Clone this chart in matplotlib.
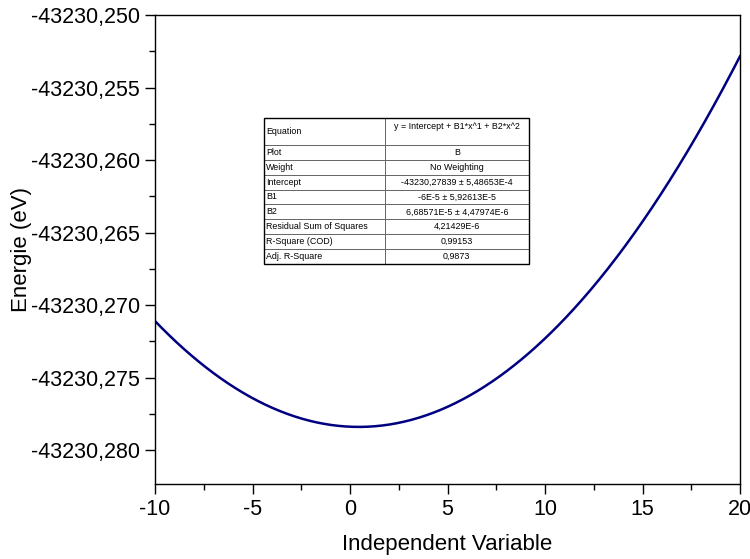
import numpy as np
import matplotlib
matplotlib.use("Agg")
import matplotlib.pyplot as plt
from matplotlib.ticker import FuncFormatter, MultipleLocator, FixedLocator
from matplotlib.patches import Rectangle

plt.rcParams['font.family'] = ['Liberation Sans', 'DejaVu Sans']

# fit parameters (quadratic)
intercept = -43230.27839
b1 = -6e-5
b2 = 6.68571e-5
x_range = [-10, 20]

y_ticks = [-43230.250, -43230.255, -43230.260, -43230.265,
           -43230.270, -43230.275, -43230.280]
x_ticks = [-10, -5, 0, 5, 10, 15, 20]

table_labels = ["Equation", "Plot", "Weight", "Intercept", "B1", "B2",
                "Residual Sum of Squares", "R-Square (COD)", "Adj. R-Square"]
table_values = ["y = Intercept + B1*x^1 + B2*x^2\n", "B", "No Weighting",
                "-43230,27839 \u00b1 5,48653E-4", "-6E-5 \u00b1 5,92613E-5",
                "6,68571E-5 \u00b1 4,47974E-6", "4,21429E-6", "0,99153", "0,9873"]

x = np.linspace(x_range[0], x_range[1], 400)
y = np.polyval([b2, b1, intercept], x)

fig = plt.figure(figsize=(7.5, 5.59), dpi=100)
ax = fig.add_axes([155/750, 1 - 484/559, 585/750, 469/559])

ax.plot(x, y, color='#000080', lw=1.8)

ax.set_xlim(-10, 20)
ax.set_ylim(-43230.28234, -43230.250)
ax.xaxis.set_major_locator(FixedLocator(x_ticks))
ax.xaxis.set_minor_locator(MultipleLocator(2.5))
ax.yaxis.set_major_locator(FixedLocator(y_ticks))
ax.yaxis.set_minor_locator(FixedLocator([v - 0.0025 for v in y_ticks]))
ax.yaxis.set_major_formatter(FuncFormatter(lambda v, p: f"{v:.3f}".replace('.', ',')))
ax.xaxis.set_major_formatter(FuncFormatter(lambda v, p: f"{v:.0f}"))

ax.tick_params(which='both', direction='out', top=False, right=False, width=1)
ax.tick_params(which='major', length=7, labelsize=15.5, pad=4)
ax.tick_params(which='minor', length=4)
for s in ax.spines.values():
    s.set_linewidth(1)

ax.set_xlabel("Independent Variable", fontsize=16, labelpad=10)
ax.set_ylabel("Energie (eV)", fontsize=16, labelpad=-1)

# results table
tb_box = [(264-155)/585, (484-264)/469, (529-264)/585, (264-118)/469]
cells = [[a, b] for a, b in zip(table_labels, table_values)]
tbl = ax.table(cellText=cells, colWidths=[0.455, 0.545], bbox=tb_box, zorder=3)
tbl.auto_set_font_size(False)
tbl.set_fontsize(6.4)
for (r, c), cell in tbl.get_celld().items():
    cell.set_height(1.8 if r == 0 else 1.0)
    cell.set_edgecolor('0.35')
    cell.set_linewidth(0.6)
    if c == 0:
        cell.get_text().set_ha('left')
        cell.PAD = 0.02
    else:
        cell.get_text().set_ha('center')
ax.add_patch(Rectangle((tb_box[0], tb_box[1]), tb_box[2], tb_box[3],
                       transform=ax.transAxes, fill=False, lw=1, ec='black', zorder=4))

fig.savefig("out.png", dpi=100)
